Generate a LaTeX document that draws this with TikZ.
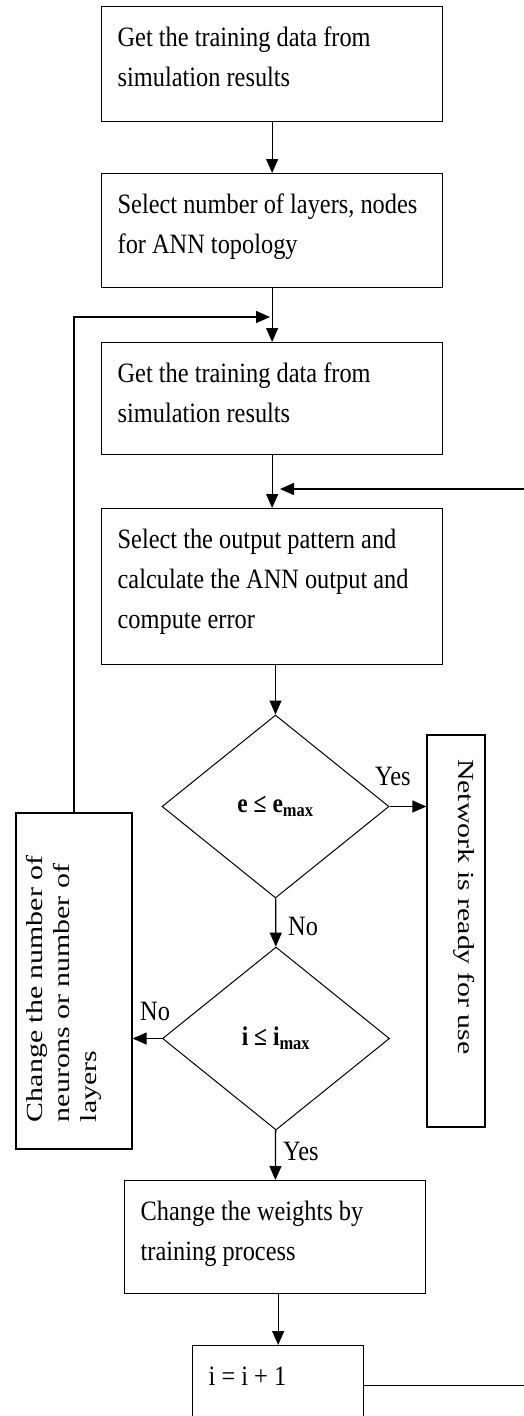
\documentclass[tikz,border=0pt]{standalone}
\usepackage{fontspec}
\setmainfont{Liberation Serif}[FakeStretch=0.87]
\newfontfamily\vertfont{Liberation Serif}[FakeStretch=1.3]
\usetikzlibrary{arrows.meta,shapes.geometric}

\begin{document}
\begin{tikzpicture}[x=1pt, y=-1pt,
    every node/.style={font=\fontsize{28}{40}\selectfont},
    stepbox/.style={draw, line width=1.3pt, anchor=north west, inner xsep=16pt, inner ysep=0pt, align=flush left, text height=40pt},
    sidebox/.style={draw, line width=1.3pt, inner ysep=0pt, align=flush left, font=\vertfont\fontsize{23}{27}\selectfont},
    decision/.style={draw, diamond, line width=1pt, inner sep=0pt, minimum width=227pt, minimum height=183pt, font=\fontsize{27}{30}\selectfont\bfseries},
    arr/.style={line width=1.3pt, -{Triangle[length=14pt,width=12pt]}},
    lbl/.style={inner sep=0pt, anchor=base west}]

    \path[use as bounding box, fill=white] (0,0) rectangle (523,1416);

    % Main column
    \node[stepbox, text width=309pt, text depth=75pt] (get1) at (101,6) {Get the training data from\\simulation results};
    \node[stepbox, text width=309pt, text depth=74pt] (topo) at (101,173) {Select number of layers, nodes\\for ANN topology};
    \node[stepbox, text width=309pt, text depth=72pt] (get2) at (101,342) {Get the training data from\\simulation results};
    \node[stepbox, text width=309pt, text depth=116pt] (calc) at (101,508) {Select the output pattern and\\calculate the ANN output and\\compute error};

    % Decisions
    \node[decision] (chkE) at (275.5,806.5) {e ≤ e\textsubscript{max}};
    \node[decision] (chkI) at (276,1038.5) {i ≤ i\textsubscript{max}};

    \node[stepbox, text width=269pt, inner xsep=16pt, text depth=73pt] (train) at (124,1180) {Change the weights by\\training process};
    \node[stepbox, text width=139pt, text depth=40pt] (incr) at (192,1345) {i = i + 1};

    % Side boxes
    \node[sidebox, rotate=-90, inner xsep=24pt, text width=344pt, text height=27pt, text depth=31pt] (ready) at (456,931) {Network is ready for use};
    \node[sidebox, rotate=90, inner xsep=27pt, text width=282pt, text height=26pt, text depth=90pt] (resize) at (74,981) {Change the number of\\neurons or number of\\layers};

    % Labels
    \node[lbl] (yes1) at (375,785) {Yes};
    \node[lbl] (no1) at (288,935) {No};
    \node[lbl] (no2) at (140,1020) {No};
    \node[lbl] (yes2) at (283,1160) {Yes};

    \coordinate (merge1) at (270,317);
    \coordinate (merge2) at (280,489);
    \coordinate (rim) at (540,0);

    % Connectors
    \draw[arr] (get1) -- (topo);
    \draw[arr] (topo) -- (get2);
    \draw[arr] (get2) -- (calc);
    \draw[arr] (calc.south -| chkE.north) -- (chkE.north);
    \draw[arr] (chkE.east) -- (chkE.east -| ready.south);
    \draw[arr] (chkE) -- (chkI);
    \draw[arr] (chkI.west) -- (chkI.west -| resize.south);
    \draw[arr] (chkI) -- (train);
    \draw[arr] (train.south -| incr.north) -- (incr.north);

    % Loops back
    \draw[arr] (resize.east) |- (merge1);
    \draw[arr] (incr.east) -- (incr.east -| rim) |- (merge2);
\end{tikzpicture}
\end{document}
